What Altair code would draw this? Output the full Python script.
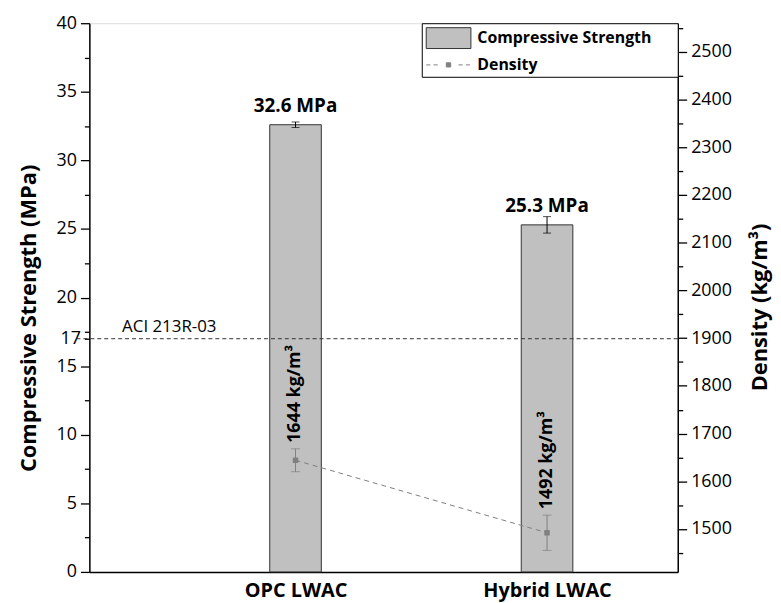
import json
import altair as alt
import pandas as pd

# ---------------- data ----------------
categories = ["OPC LWAC", "Hybrid LWAC"]
positions = [1, 2]
strength = [32.6, 25.3]
strength_err = [0.2, 0.6]
strength_labels = ["32.6 MPa", "25.3 MPa"]
density = [1644, 1492]
density_err = [24, 37]
density_labels = ["1644 kg/m³", "1492 kg/m³"]
aci_value = [17]
aci_label = ["ACI 213R-03"]
legend_names = ["Compressive Strength", "Density"]

strength_ticks = [i * 2.5 for i in range(17)] + [17]
strength_labeled = [0, 5, 10, 15, 17, 20, 25, 30, 35, 40]
density_ticks = list(range(1450, 2551, 50))
density_labeled = list(range(1500, 2501, 100))

FONT = "Open Sans"
W, H = 593, 553

df = pd.DataFrame({
    "pos": positions,
    "cat": categories,
    "strength": strength,
    "s_err": strength_err,
    "s_label": strength_labels,
    "density": density,
    "d_err": density_err,
    "d_label": density_labels,
})
df["s_lo"] = df["strength"] - df["s_err"]
df["s_hi"] = df["strength"] + df["s_err"]
df["d_lo"] = df["density"] - df["d_err"]
df["d_hi"] = df["density"] + df["d_err"]

aci_df = pd.DataFrame({"aci": aci_value, "label": aci_label})
legend_df = pd.DataFrame({"series": legend_names})

# ---------------- scales / axes ----------------
x_scale = alt.Scale(domain=[0.2, 2.5], nice=False, zero=False)
x_axis = alt.Axis(
    values=positions,
    labelExpr=f"{json.dumps(categories)}[datum.value - 1]",
    ticks=False, grid=False, title=None,
    labelFont=FONT, labelFontSize=20, labelFontWeight="bold",
    labelColor="black", labelPadding=9,
    domainColor="black", domainWidth=1.5,
)

ys_scale = alt.Scale(domain=[0, 40], nice=False, zero=False)
ys_axis = alt.Axis(
    values=strength_ticks,
    labelExpr=f"indexof({json.dumps(strength_labeled)}, datum.value) >= 0 ? datum.label : ''",
    tickSize={"condition": {"test": "datum.value % 5 == 0", "value": 9}, "value": 5},
    labelOverlap=False, grid=False,
    title="Compressive Strength (MPa)", titleFont=FONT, titleFontSize=22,
    titleFontWeight="bold", titleColor="black", titlePadding=16, titleY=297,
    labelFont=FONT, labelFontSize=18, labelColor="black", labelPadding=4,
    domainColor="black", domainWidth=1.5, tickColor="black", tickWidth=1.3,
)

yd_scale = alt.Scale(domain=[1410, 2560], nice=False, zero=False)
yd_axis = alt.Axis(
    orient="right",
    values=density_ticks,
    labelExpr=f"indexof({json.dumps(density_labeled)}, datum.value) >= 0 ? datum.label : ''",
    tickSize={"condition": {"test": "datum.value % 100 == 0", "value": 9}, "value": 5},
    labelOverlap=False, grid=False, format="d",
    title="Density (kg/m³)", titleFont=FONT, titleFontSize=22,
    titleFontWeight="bold", titleColor="black", titlePadding=18, titleY=286,
    titleAngle=270, titleBaseline="top",
    labelFont=FONT, labelFontSize=18, labelColor="black", labelPadding=4,
    domainColor="black", domainWidth=1.5, tickColor="black", tickWidth=1.3,
)


def X():
    return alt.X("pos:Q", scale=x_scale, axis=x_axis)


def YS(field):
    return alt.Y(f"{field}:Q", scale=ys_scale, axis=ys_axis)


def YD(field):
    return alt.Y(f"{field}:Q", scale=yd_scale, axis=yd_axis)


base = alt.Chart(df)

# ---------------- strength layers ----------------
bars = base.mark_bar(size=52, fill="#c0c0c0", stroke="#333333", strokeWidth=1).encode(
    x=X(), y=YS("strength")
)
s_err_rule = base.mark_rule(color="black", strokeWidth=1).encode(
    x=X(), y=YS("s_lo"), y2="s_hi:Q"
)
s_cap_lo = base.mark_tick(orient="horizontal", size=8, thickness=1, color="black").encode(
    x=X(), y=YS("s_lo")
)
s_cap_hi = base.mark_tick(orient="horizontal", size=8, thickness=1, color="black").encode(
    x=X(), y=YS("s_hi")
)
s_text = base.mark_text(
    font=FONT, fontSize=19, fontWeight="bold", color="black",
    baseline="alphabetic", dy=-13
).encode(x=X(), y=YS("strength"), text="s_label:N")

aci_rule = alt.Chart(aci_df).mark_rule(
    color="#333333", strokeDash=[4, 3], strokeWidth=1
).encode(y=YS("aci"), x=alt.value(-13), x2=alt.value(W))
aci_text = alt.Chart(aci_df).mark_text(
    font=FONT, fontSize=17, color="black", align="left", baseline="alphabetic", dy=-7
).encode(y=YS("aci"), x=alt.value(33), text="label:N")

strength_layer = alt.layer(bars, s_err_rule, s_cap_lo, s_cap_hi, s_text, aci_rule, aci_text)

# ---------------- density layers ----------------
DGRAY = "#808080"
d_line = base.mark_line(color=DGRAY, strokeDash=[5, 4], strokeWidth=1).encode(
    x=X(), y=YD("density")
)
d_err_rule = base.mark_rule(color=DGRAY, strokeWidth=1).encode(
    x=X(), y=YD("d_lo"), y2="d_hi:Q"
)
d_cap_lo = base.mark_tick(orient="horizontal", size=9, thickness=1, color=DGRAY).encode(
    x=X(), y=YD("d_lo")
)
d_cap_hi = base.mark_tick(orient="horizontal", size=9, thickness=1, color=DGRAY).encode(
    x=X(), y=YD("d_hi")
)
d_points = base.mark_point(shape="square", filled=True, size=30, color=DGRAY, opacity=1).encode(
    x=X(), y=YD("density")
)
d_text = base.mark_text(
    font=FONT, fontSize=18, fontWeight="bold", color="black",
    angle=270, align="left", baseline="middle", dx=6
).encode(x=X(), y=YD("d_hi"), text="d_label:N")

density_layer = alt.layer(d_line, d_err_rule, d_cap_lo, d_cap_hi, d_points, d_text)

# ---------------- legend ----------------
rect_path = "M-1,-1H3.29V1H-1Z"
line_path = ("M-1,0H-0.6M-0.3,0H0.1"
             "M0.93,-0.2H1.35V0.2H0.93Z"
             "M2.1,0H2.5M2.8,0H3.2")
leg = alt.Legend(
    title="\u200b", titleOrient="right", titlePadding=22, titleFontSize=4,
    orient="top-right", offset=0,
    symbolSize=441, symbolStrokeWidth=1, symbolOpacity=1,
    labelFont=FONT, labelFontSize=16, labelFontWeight="bold", labelColor="black",
    labelOffset=30, labelLimit=0,
    strokeColor="black", fillColor="white",
    padding=4, rowPadding=3,
)
legend_layer = alt.Chart(legend_df).transform_filter("false").mark_point(opacity=1).encode(
    shape=alt.Shape("series:N", scale=alt.Scale(domain=legend_names, range=[rect_path, line_path]), legend=leg),
    fill=alt.Fill("series:N", scale=alt.Scale(domain=legend_names, range=["#c0c0c0", DGRAY]), legend=leg),
    stroke=alt.Stroke("series:N", scale=alt.Scale(domain=legend_names, range=["#333333", DGRAY]), legend=leg),
)

chart = alt.layer(strength_layer, density_layer, legend_layer).resolve_scale(
    y="independent"
).properties(
    width=W, height=H,
    autosize="none",
    padding={"left": 82, "top": 13, "right": 96, "bottom": 30},
).configure_view(
    stroke="black", strokeWidth=1.3
).configure(background="white")

chart.save("out.html", embed_options={"renderer": "svg", "actions": False})
